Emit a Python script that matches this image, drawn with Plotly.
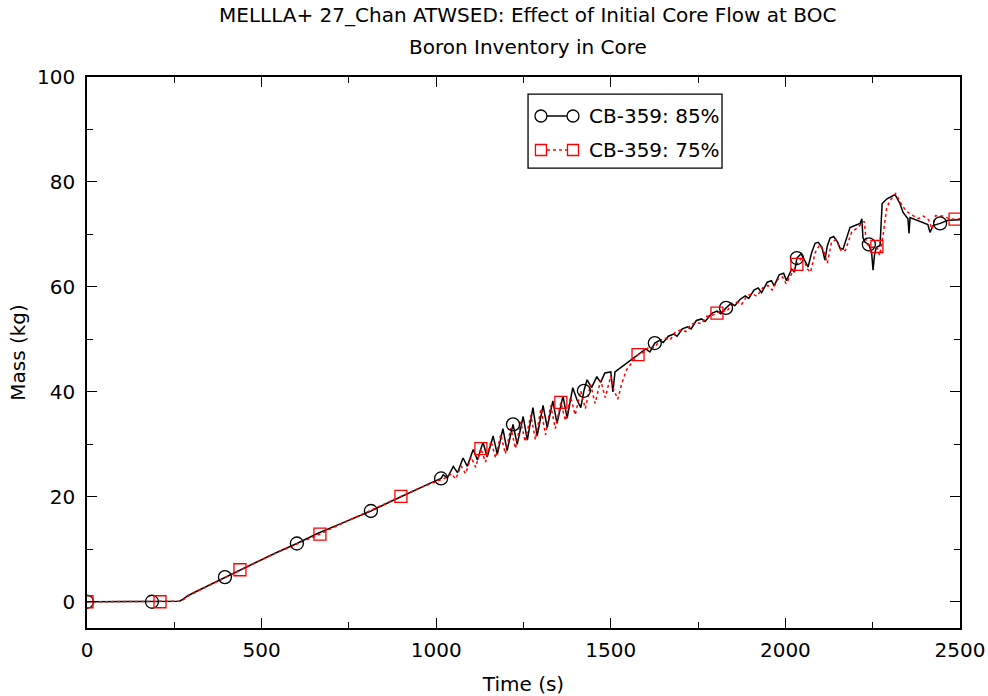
import plotly.graph_objects as go

# ---------------- data ----------------
title_line1 = "MELLLA+ 27_Chan ATWSED: Effect of Initial Core Flow at BOC"
title_line2 = "Boron Inventory in Core"
x_label = "Time (s)"
y_label = "Mass (kg)"
name85 = "CB-359: 85%"
name75 = "CB-359: 75%"

t85 = [0, 186, 255, 265, 275, 290, 320, 360, 395, 440, 490, 540, 601, 660, 720, 780, 813, 870, 930, 980, 1014,
       1020, 1032, 1049, 1061, 1077, 1089, 1106, 1118, 1134, 1146, 1163, 1175, 1191, 1203, 1220, 1232, 1249, 1261,
       1277, 1289, 1306, 1318, 1334, 1346, 1363, 1375, 1391, 1403, 1414, 1423, 1432, 1445, 1460, 1471, 1483, 1500,
       1506, 1512, 1526, 1545, 1560, 1578, 1600, 1612, 1626, 1640, 1650, 1665, 1680, 1690, 1705, 1720, 1730, 1745,
       1760, 1770, 1790, 1805, 1815, 1830, 1845, 1855, 1870, 1885, 1895, 1910, 1922, 1932, 1948, 1960, 1968, 1982,
       1995, 2003, 2018, 2026, 2033, 2045, 2055, 2065, 2075, 2085, 2094, 2105, 2113, 2120, 2128, 2138, 2150, 2156,
       2165, 2175, 2185, 2199, 2214, 2219, 2222, 2228, 2239, 2247, 2251, 2255, 2260, 2271, 2277, 2291, 2314, 2328,
       2337, 2351, 2354, 2357, 2377, 2400, 2408, 2414, 2423, 2443, 2466, 2500]
m85 = [0, 0, 0, 0.1, 0.5, 1.2, 2.2, 3.5, 4.7, 6.1, 7.7, 9.3, 11.1, 13.0, 14.7, 16.4, 17.3, 19.1, 21.0, 22.5, 23.5,
       24.2, 23.6, 25.8, 24.6, 27.4, 25.8, 29.0, 27.0, 30.4, 27.6, 31.6, 28.1, 33.0, 28.8, 33.8, 30.0, 35.3, 30.8,
       37.0, 31.6, 37.4, 33.2, 38.3, 34.0, 39.2, 35.0, 40.8, 38.5, 37.0, 40.2, 42.3, 40.8, 42.9, 41.8, 43.6, 43.8,
       40.0, 43.8, 44.5, 45.3, 46.2, 47.0, 48.2, 47.6, 49.3, 49.8, 49.4, 50.6, 51.0, 50.6, 52.0, 52.4, 52.0, 53.6,
       53.9, 53.4, 55.0, 55.4, 54.9, 56.0, 56.9, 56.4, 57.6, 58.3, 57.8, 59.4, 59.8, 58.9, 60.9, 61.2, 60.2, 62.3,
       62.6, 61.2, 63.4, 62.8, 65.5, 66.3, 65.0, 63.8, 66.5, 68.3, 68.5, 67.5, 65.1, 67.8, 69.3, 69.6, 68.5, 67.4,
       67.2, 69.5, 71.3, 71.7, 72.1, 73.0, 69.4, 68.5, 68.1, 66.5, 63.2, 66.0, 67.5, 67.9, 75.9, 76.8, 77.6, 75.9,
       74.2, 73.0, 70.2, 73.2, 72.7, 72.2, 71.9, 70.4, 71.7, 72.1, 72.7, 72.8]
marks85 = [0, 186, 395, 601, 813, 1014, 1220, 1423, 1626, 1830, 2033, 2239, 2443]

t75 = [0, 209, 258, 268, 278, 292, 325, 365, 400, 438, 490, 545, 600, 667, 720, 780, 840, 899, 950, 1000, 1030,
       1043, 1056, 1071, 1084, 1100, 1113, 1128, 1141, 1157, 1170, 1185, 1198, 1214, 1227, 1242, 1255, 1271, 1284,
       1300, 1313, 1328, 1341, 1357, 1370, 1385, 1398, 1414, 1427, 1442, 1455, 1471, 1484, 1500, 1508, 1520, 1532,
       1545, 1560, 1578, 1595, 1610, 1625, 1640, 1655, 1670, 1685, 1700, 1715, 1730, 1745, 1760, 1775, 1790, 1804,
       1818, 1832, 1847, 1862, 1875, 1890, 1905, 1918, 1935, 1950, 1962, 1978, 1992, 2002, 2018, 2033, 2050, 2062,
       2072, 2085, 2098, 2110, 2120, 2132, 2145, 2160, 2172, 2190, 2205, 2218, 2226, 2232, 2245, 2262, 2270, 2280,
       2290, 2300, 2316, 2330, 2345, 2360, 2380, 2395, 2410, 2420, 2430, 2450, 2470, 2486, 2500]
m75 = [0, 0, 0, 0.1, 0.5, 1.2, 2.3, 3.6, 4.8, 6.1, 7.7, 9.4, 11.0, 12.9, 14.6, 16.4, 18.2, 20.1, 21.6, 22.9, 23.7,
       24.4, 23.4, 25.9, 24.4, 27.6, 25.6, 29.2, 26.6, 30.6, 27.4, 31.9, 28.2, 33.1, 29.2, 34.3, 30.5, 35.6, 30.9,
       36.8, 31.8, 37.4, 33.0, 38.0, 34.5, 39.0, 35.6, 40.2, 36.8, 41.4, 37.8, 42.2, 38.9, 43.0, 40.5, 38.6, 41.7,
       44.2, 45.5, 47.1, 47.6, 48.6, 48.4, 49.8, 50.2, 49.9, 51.4, 51.8, 51.5, 52.9, 53.2, 53.0, 54.4, 54.6, 55.0,
       55.6, 55.3, 56.8, 57.1, 56.7, 58.3, 58.7, 58.2, 59.8, 60.3, 59.4, 61.4, 61.9, 60.6, 62.6, 64.3, 65.8, 63.5,
       62.8, 66.5, 68.0, 66.8, 64.5, 68.5, 69.0, 66.8, 67.0, 70.5, 71.2, 72.0, 72.5, 68.3, 67.5, 67.7, 66.0, 70.0,
       75.0, 76.5, 77.8, 76.0, 74.5, 73.8, 73.0, 73.5, 72.8, 71.0, 73.6, 73.5, 73.0, 72.9, 73.0]
marks75 = [0, 209, 438, 667, 899, 1128, 1357, 1578, 1804, 2033, 2262, 2486]

x_ticks = [0, 500, 1000, 1500, 2000, 2500]
y_ticks = [0, 20, 40, 60, 80, 100]

# ---------------- figure ----------------
FONT = "DejaVu Sans"
FS = 20
fig = go.Figure()

fig.add_trace(go.Scatter(x=t85, y=m85, mode="lines", line=dict(color="black", width=1.5),
                         showlegend=False, hoverinfo="skip"))
fig.add_trace(go.Scatter(x=t75, y=m75, mode="lines", line=dict(color="red", width=1.5, dash="dot"),
                         showlegend=False, hoverinfo="skip"))

mx85 = [t for t in t85 if t in marks85]
my85 = [m for t, m in zip(t85, m85) if t in marks85]
mx75 = [t for t in t75 if t in marks75]
my75 = [m for t, m in zip(t75, m75) if t in marks75]

fig.add_trace(go.Scatter(x=mx85, y=my85, mode="markers",
                         marker=dict(symbol="circle-open", size=13, color="black", line=dict(width=1.3)),
                         showlegend=False, name=name85))
fig.add_trace(go.Scatter(x=mx75, y=my75, mode="markers",
                         marker=dict(symbol="square-open", size=12, color="red", line=dict(width=1.3)),
                         showlegend=False, name=name75))

axis_common = dict(showline=True, linecolor="black", linewidth=1.5, mirror="ticks", ticks="inside",
                   ticklen=10, tickwidth=1.3, tickcolor="black", showgrid=False, zeroline=False,
                   automargin=False,
                   tickfont=dict(family=FONT, size=FS, color="black"))

fig.update_xaxes(range=[0, 2500], tickvals=x_ticks, ticktext=[str(v) for v in x_ticks],
                 minor=dict(dtick=250, ticklen=6, tickwidth=1.2, tickcolor="black", ticks="inside"),
                 ticklabelstandoff=3,
                 title=dict(text=x_label, font=dict(family=FONT, size=FS, color="black"), standoff=20),
                 **axis_common)
fig.update_yaxes(range=[-5, 100], tickvals=y_ticks, ticktext=[str(v) for v in y_ticks],
                 minor=dict(dtick=10, tick0=0, ticklen=6, tickwidth=1.2, tickcolor="black", ticks="inside"),
                 ticklabelstandoff=6,
                 title=dict(text=y_label, font=dict(family=FONT, size=FS, color="black"), standoff=6),
                 **axis_common)

# custom legend (box with two samples)
lx0, lx1, ly0, ly1 = 0.5052, 0.7274, 0.8348, 0.9691
fig.add_shape(type="rect", xref="paper", yref="paper", x0=lx0, x1=lx1, y0=ly0, y1=ly1,
              line=dict(color="black", width=1.3), fillcolor="white", layer="above")
rows = [(0.9292, "black", "solid", "circle", name85), (0.8675, "red", "dot", "square", name75)]
sx0, sx1 = 0.5200, 0.5567
for yy, col, dash, sym, label in rows:
    fig.add_shape(type="line", xref="paper", yref="paper", x0=sx0, x1=sx1, y0=yy, y1=yy,
                  line=dict(color=col, width=1.3, dash=dash), layer="above")
    for xx in (sx0, sx1):
        if sym == "circle":
            fig.add_shape(type="circle", xref="paper", yref="paper", xsizemode="pixel", ysizemode="pixel",
                          xanchor=xx, yanchor=yy, x0=-6, x1=6, y0=-6, y1=6,
                          line=dict(color=col, width=1.3), fillcolor="white", layer="above")
        else:
            fig.add_shape(type="rect", xref="paper", yref="paper", xsizemode="pixel", ysizemode="pixel",
                          xanchor=xx, yanchor=yy, x0=-5.5, x1=5.5, y0=-5.5, y1=5.5,
                          line=dict(color=col, width=1.3), fillcolor="white", layer="above")
    fig.add_annotation(xref="paper", yref="paper", x=0.5727, y=yy, text=label, showarrow=False,
                       xanchor="left", yanchor="middle", font=dict(family=FONT, size=FS, color="black"))

fig.add_annotation(xref="paper", yref="paper", x=0.505, y=1.1125, text=title_line1, showarrow=False,
                   xanchor="center", yanchor="middle", font=dict(family=FONT, size=FS, color="black"))
fig.add_annotation(xref="paper", yref="paper", x=0.505, y=1.0545, text=title_line2, showarrow=False,
                   xanchor="center", yanchor="middle", font=dict(family=FONT, size=FS, color="black"))

fig.update_layout(width=988, height=696, margin=dict(l=87, r=28, t=77, b=68),
                  plot_bgcolor="white", paper_bgcolor="white", showlegend=False,
                  font=dict(family=FONT, color="black"))

fig.write_html("out.html")
